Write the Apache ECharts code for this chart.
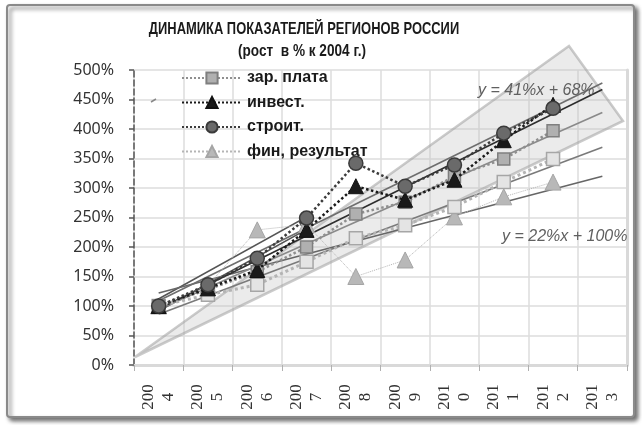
<!DOCTYPE html>
<html><head><meta charset="utf-8">
<script src="https://cdn.jsdelivr.net/npm/echarts@6/dist/echarts.min.js"></script>
<style>html,body{margin:0;padding:0;background:#fff}#c{width:642px;height:425px}</style>
</head><body><div id="c"></div>
<script>
// ---- data ----
var categories = ['2004','2005','2006','2007','2008','2009','2010','2011','2012','2013'];
var yTicks = [0, 50, 100, 150, 200, 250, 300, 350, 400, 450, 500];
var zarplata   = [100, 128, 158, 200, 256, 276, 320, 349, 397, null];
var zarplata2  = [100, 119, 136, 175, 215, 237, 268, 310, 349, null];
var invest     = [100, 130, 161, 229, 303, 280, 314, 381, 441, null];
var stroit     = [100, 136, 181, 249, 342, 303, 339, 393, 435, null];
var finres     = [100, 135, 229, 238, 150, 178, 251, 285, 310, null];
// trend lines: value at 2004 and at 2013
var trendStroit = [109, 478];
var trendInvest = [95, 467];
var trendZar    = [94, 428];
var trendZar2   = [86, 369];
var trendFin    = [122, 320];
var titleMain = 'ДИНАМИКА ПОКАЗАТЕЛЕЙ РЕГИОНОВ РОССИИ';
var titleSub = '(рост  в % к 2004 г.)';
var eqTop = 'y = 41%x + 68%';
var eqBottom = 'y = 22%x + 100%';

var chart = echarts.init(document.getElementById('c'), null, {renderer:'canvas'});
function trend(name, vals, color, w){
  return {name:name, type:'line', data:[[categories[0], vals[0]],[categories[categories.length-1], vals[1]]],
    symbol:'none', lineStyle:{color:color, width:w}, z:3, silent:true};
}
var sans = "'Liberation Sans',sans-serif";
var option = {
  animation:false,
  backgroundColor:'#fff',
  legend:{orient:'vertical', left:176, top:65, itemWidth:60, itemHeight:14, itemGap:8.5,
    data:['зар. плата','инвест.','строит.','фин, результат'],
    textStyle:{fontFamily:sans, fontSize:16, fontWeight:'bold', color:'#1a1a1a'}},
  grid:{left:134, right:15, top:70, bottom:60},
  xAxis:[{type:'category', data:categories, boundaryGap:true,
    axisLine:{lineStyle:{color:'#d4d4d4', width:3}},
    axisTick:{show:true, length:6, lineStyle:{color:'#b0b0b0', width:1}},
    splitLine:{show:true, lineStyle:{color:'#dcdcdc', width:1.5}},
    axisLabel:{rotate:90, interval:0, margin:32, fontFamily:"'Liberation Serif',serif", fontSize:17, lineHeight:20,
      color:'#333', align:'center', verticalAlign:'middle',
      formatter:function(v){return v.slice(0,3)+'\n'+v.slice(3);}}},
    {type:'category', data:categories, position:'top', axisLine:{lineStyle:{color:'#d9d9d9', width:3}},
      axisTick:{show:false}, axisLabel:{show:false}}],
  yAxis:[{type:'value', min:yTicks[0], max:yTicks[yTicks.length-1], interval:yTicks[1]-yTicks[0],
    axisLine:{show:true, lineStyle:{color:'#555', width:1.5, type:'dashed'}},
    axisTick:{show:true, length:5, lineStyle:{color:'#555', width:1.5}},
    splitLine:{lineStyle:{color:'#dcdcdc', width:1.5}},
    axisLabel:{formatter:'{value}%', margin:20, fontFamily:"'Noto Sans',sans-serif", fontSize:16, color:'#333'}},
    {type:'value', position:'right', min:0, max:500, axisLine:{show:true, lineStyle:{color:'#d9d9d9', width:3}},
      axisTick:{show:false}, axisLabel:{show:false}, splitLine:{show:false}}],
  series:[
    trend('t_zar2', trendZar2, '#7a7a7a', 1.6),
    trend('t_fin', trendFin, '#666666', 1.6),
    trend('t_zar', trendZar, '#8a8a8a', 1.6),
    trend('t_inv', trendInvest, '#2e2e2e', 1.6),
    trend('t_str', trendStroit, '#6e6e6e', 1.6),
    {name:'фин, результат', type:'line', data:finres, symbol:'triangle', symbolSize:16, z:4,
      lineStyle:{type:'dotted', width:1, color:'#b5b5b5'},
      itemStyle:{color:'#b8b8b8', borderColor:'#a5a5a5', borderWidth:1}},
    {name:'зар. плата (2)', type:'line', data:zarplata2, symbol:'rect', symbolSize:13, z:5,
      lineStyle:{type:'dotted', width:3, color:'#b4b4b4'},
      itemStyle:{color:'#e4e4e4', borderColor:'#a6a6a6', borderWidth:1.5}},
    {name:'зар. плата', type:'line', data:zarplata, symbol:'rect', symbolSize:12, z:5,
      lineStyle:{type:'dotted', width:2.5, color:'#8f8f8f'},
      itemStyle:{color:'#b0b0b0', borderColor:'#7f7f7f', borderWidth:1.5}},
    {name:'инвест.', type:'line', data:invest, symbol:'triangle', symbolSize:15, z:6,
      lineStyle:{type:'dotted', width:2.5, color:'#1a1a1a'},
      itemStyle:{color:'#1a1a1a', borderColor:'#111', borderWidth:1}},
    {name:'строит.', type:'line', data:stroit, symbol:'circle', symbolSize:14, z:7,
      lineStyle:{type:'dotted', width:2.5, color:'#3c3c3c'},
      itemStyle:{color:'#6a6a6a', borderColor:'#3a3a3a', borderWidth:1.5}}
  ],
  graphic:[
    {type:'rect', shape:{x:7, y:5, width:627, height:412, r:3}, z:-10,
      style:{fill:'#fff', stroke:'#8a8a8a', lineWidth:2, shadowBlur:4, shadowOffsetX:3, shadowOffsetY:3, shadowColor:'rgba(0,0,0,0.55)'}},
    {type:'text', x:304, y:29, scaleX:0.76, z:10,
      style:{text:titleMain, fill:'#1a1a1a', font:"bold 17px "+sans, textAlign:'center', textVerticalAlign:'middle'}},
    {type:'text', x:302, y:51, scaleX:0.8, z:10,
      style:{text:titleSub, fill:'#1a1a1a', font:"bold 17px "+sans, textAlign:'center', textVerticalAlign:'middle'}},
    {type:'polygon', shape:{points:[[135,357],[569,46],[623,121]]}, z:1,
      style:{fill:'rgba(195,195,195,0.33)', stroke:'rgba(160,160,160,0.55)', lineWidth:2.5}},
    {type:'polygon', shape:{points:[[153,302],[299,221],[304,231],[155,313]]}, z:1,
      style:{fill:'rgba(255,255,255,0.85)', stroke:'#555', lineWidth:1.5}},
    {type:'line', shape:{x1:151, y1:102, x2:156, y2:99}, z:1, style:{stroke:'#888', lineWidth:1.5}},
    {type:'text', x:478, y:91, z:10, style:{text:eqTop, fill:'#606060', font:"italic 16px "+sans, textVerticalAlign:'middle'}},
    {type:'text', x:502, y:237, z:10, style:{text:eqBottom, fill:'#606060', font:"italic 16px "+sans, textVerticalAlign:'middle'}}
  ]
};
chart.setOption(option);
</script></body></html>
